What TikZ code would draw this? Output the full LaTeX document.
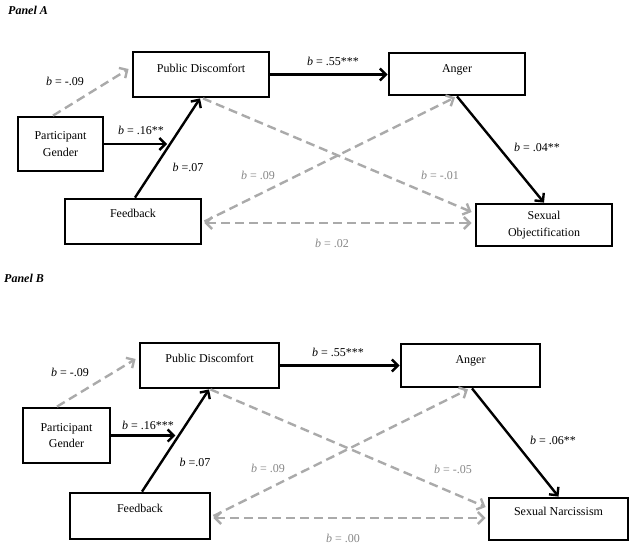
\documentclass[tikz,border=0pt]{standalone}
\usepackage{fontspec}
\setmainfont{Liberation Serif}
\usetikzlibrary{arrows.meta,calc}
\definecolor{lgray}{RGB}{170,170,170}
\definecolor{tgray}{RGB}{135,135,135}
\newcommand{\bv}{\textit{b}}
\begin{document}
\begin{tikzpicture}[x=1pt,y=-1pt,
 box/.style={draw=black, line width=2.8pt, inner sep=0pt, font=\fontsize{12}{16.5}\selectfont, align=center},
 tip/.tip={Straight Barb[length=6pt,width=12pt]},
 solidarr/.style={line width=2.4pt, -tip},
 dasharr/.style={lgray, line width=2.4pt, dash pattern=on 9pt off 5pt, -tip},
 dashboth/.style={lgray, line width=2.4pt, dash pattern=on 9pt off 5pt, tip-tip},
 lab/.style={font=\fontsize{12}{14}\selectfont, inner sep=0pt},
 glab/.style={lab, text=tgray},
 panel/.style={font=\fontsize{12}{14}\selectfont\bfseries\itshape, anchor=west, inner sep=0pt}]
\useasboundingbox (0,0) rectangle (634,547);

% ---------------- Panel A ----------------
\node[panel] (pa) at (8,10) {Panel A};
\node[box, minimum width=136pt, text height=20pt, text depth=25pt] (pda) at (201,74.5) {Public Discomfort};
\node[box, minimum width=136pt, text height=19pt, text depth=23pt] (anga) at (457,74) {Anger};
\node[box, minimum width=85pt, minimum height=54pt] (pga) at (60.5,144) {Participant\\Gender};
\node[box, minimum width=136pt, text height=18pt, text depth=27pt] (fba) at (133,221.5) {Feedback};
\node[box, minimum width=136pt, minimum height=42pt] (soa) at (544,225) {Sexual\\Objectification};

\draw[dasharr] ([xshift=-7.5pt]pga.north) -- ([xshift=-3pt,yshift=5.5pt]pda.west);
\coordinate (fbta) at ([xshift=2pt]fba.north);
\coordinate (pdba) at ([xshift=-1pt]pda.south);
\draw[solidarr] (fbta) -- (pdba);
\path (fbta) -- (pdba) coordinate[pos=0.54] (ma);
\coordinate (ea) at (pga.east -| ma);
\draw[solidarr] (pga.east) -- ([xshift=-3pt]ea);
\draw[solidarr] (pda.east) -- (pda.east -| anga.west);
\draw[solidarr] (anga.south) -- (soa.north);
\draw[dasharr] ([xshift=2pt]pda.south) -- ([xshift=-3pt,yshift=13pt]soa.west);
\draw[dasharr] ([xshift=2pt]fba.east) -- ([xshift=-2pt,yshift=-1pt]anga.south);
\draw[dashboth] ([xshift=2pt,yshift=-1.5pt]fba.east) -- ([xshift=-3pt,yshift=2pt]soa.west);

\node[lab] at (65,81) {\bv{} = -.09};
\node[lab] at (141,130) {\bv{} = .16**};
\node[lab] at (188,167) {\bv{} =.07};
\node[lab] at (333,61) {\bv{} = .55***};
\node[lab] at (537,147) {\bv{} = .04**};
\node[glab] at (440,175) {\bv{} = -.01};
\node[glab] at (258,175) {\bv{} = .09};
\node[glab] at (332,243) {\bv{} = .02};

% ---------------- Panel B ----------------
\node[panel] (pb) at (4,278) {Panel B};
\node[box, minimum width=139pt, text height=19pt, text depth=26pt] (pdb) at (209.5,365.5) {Public Discomfort};
\node[box, minimum width=139pt, text height=19pt, text depth=24pt] (angb) at (470.5,365.5) {Anger};
\node[box, minimum width=87pt, minimum height=55pt] (pgb) at (66.5,435.5) {Participant\\Gender};
\node[box, minimum width=140pt, text height=19pt, text depth=27pt] (fbb) at (140,516) {Feedback};
\node[box, minimum width=139pt, text height=17pt, text depth=25pt] (snb) at (558.5,519) {Sexual Narcissism};

\draw[dasharr] ([xshift=-9.5pt]pgb.north) -- ([xshift=-3pt,yshift=6.5pt]pdb.west);
\coordinate (fbtb) at ([xshift=2pt]fbb.north);
\coordinate (pdbb) at ([xshift=-0.5pt]pdb.south);
\draw[solidarr] (fbtb) -- (pdbb);
\path (fbtb) -- (pdbb) coordinate[pos=0.543] (mb);
\coordinate (eb) at (pgb.east -| mb);
\draw[solidarr] (pgb.east) -- ([xshift=-3pt]eb);
\draw[solidarr] (pdb.east) -- (pdb.east -| angb.west);
\draw[solidarr] ([xshift=1.5pt]angb.south) -- (snb.north);
\draw[dasharr] ([xshift=1pt]pdb.south) -- ([xshift=-2pt,yshift=12pt]snb.west);
\draw[dasharr] ([xshift=2pt]fbb.east) -- ([xshift=-2.5pt,yshift=-1pt]angb.south);
\draw[dashboth] ([xshift=2pt,yshift=-2pt]fbb.east) -- ([xshift=-2pt,yshift=1pt]snb.west);

\node[lab] at (70,372) {\bv{} = -.09};
\node[lab] at (148,425) {\bv{} = .16***};
\node[lab] at (195,462) {\bv{} =.07};
\node[lab] at (338,352) {\bv{} = .55***};
\node[lab] at (553,440) {\bv{} = .06**};
\node[glab] at (453,469) {\bv{} = -.05};
\node[glab] at (268,468) {\bv{} = .09};
\node[glab] at (343,538) {\bv{} = .00};
\end{tikzpicture}
\end{document}
